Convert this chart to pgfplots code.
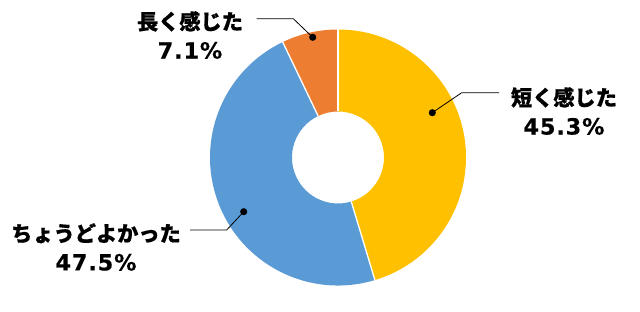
\documentclass[border=0pt]{standalone}
\usepackage{pgfplots}
\pgfplotsset{compat=1.18}
\usepackage{pgfplotstable}
\usepackage{fontspec}
\setmainfont{Noto Sans CJK JP}[BoldFeatures={FakeBold=0.6}]
\newfontfamily\pct{DejaVu Sans}[LetterSpace=4, BoldFeatures={FakeBold=0.3}]
\definecolor{cy}{HTML}{FFC000}
\definecolor{cb}{HTML}{5B9BD5}
\definecolor{co}{HTML}{ED7D31}

\pgfplotstableread{
key value
short 45.3
just 47.5
long 7.1
}\datatable

\pgfplotstablegetelem{0}{value}\of\datatable \let\vA\pgfplotsretval
\pgfplotstablegetelem{1}{value}\of\datatable \let\vB\pgfplotsretval
\pgfplotstablegetelem{2}{value}\of\datatable \let\vC\pgfplotsretval
\pgfmathsetmacro{\tot}{\vA+\vB+\vC}
\pgfmathsetmacro{\aA}{90}
\pgfmathsetmacro{\aB}{90-\vA/\tot*360}
\pgfmathsetmacro{\aC}{\aB-\vB/\tot*360}
\pgfmathsetmacro{\aD}{90-360}

\newcommand\cx{338}
\newcommand\cyy{154.5}
\newcommand\lblfont{\fontsize{21.2bp}{29bp}\selectfont\bfseries}
\newcommand\pf{\pct\fontsize{22.3bp}{29bp}\selectfont\bfseries}

\begin{document}
\begin{tikzpicture}
\useasboundingbox (0,0) rectangle (640bp,312bp);
\begin{axis}[at={(0,0)}, anchor=origin, x=1bp, y=1bp,
  xmin=0, xmax=640, ymin=0, ymax=312, hide axis, clip=false]
% slices
\fill[cy] (axis cs:\cx,\cyy) ++(\aA:128bp) arc[start angle=\aA, end angle=\aB, radius=128bp]
  -- ([shift={(\aB:46bp)}]axis cs:\cx,\cyy) arc[start angle=\aB, end angle=\aA, radius=46bp] -- cycle;
\fill[cb] (axis cs:\cx,\cyy) ++(\aB:128bp) arc[start angle=\aB, end angle=\aC, radius=128bp]
  -- ([shift={(\aC:46bp)}]axis cs:\cx,\cyy) arc[start angle=\aC, end angle=\aB, radius=46bp] -- cycle;
\fill[co] (axis cs:\cx,\cyy) ++(\aC:128bp) arc[start angle=\aC, end angle=\aD, radius=128bp]
  -- ([shift={(\aD:46bp)}]axis cs:\cx,\cyy) arc[start angle=\aD, end angle=\aC, radius=46bp] -- cycle;
% separators
\draw[white, line width=1.3bp] ([shift={(\aA:46bp)}]axis cs:\cx,\cyy) -- ([shift={(\aA:128bp)}]axis cs:\cx,\cyy);
\draw[white, line width=1.3bp] ([shift={(\aB:46bp)}]axis cs:\cx,\cyy) -- ([shift={(\aB:128bp)}]axis cs:\cx,\cyy);
\draw[white, line width=1.3bp] ([shift={(\aC:46bp)}]axis cs:\cx,\cyy) -- ([shift={(\aC:128bp)}]axis cs:\cx,\cyy);
% leader lines
\addplot[black, line width=0.8bp, mark=none] coordinates {(256.7,293.3) (293.3,293.3) (312.7,274.7)};
\addplot[black, line width=0.8bp, mark=none] coordinates {(499,219.3) (461.7,219.3) (432.3,199.3)};
\addplot[black, line width=0.8bp, mark=none] coordinates {(190,82) (226.7,82) (243.7,100.3)};
\addplot[only marks, mark=*, mark size=3.3bp, black] coordinates {(312.7,274.7) (432.3,199.3) (243.7,100.3)};
% labels
\node[align=center, font=\lblfont, inner sep=0pt] at (axis cs:190,277)
  {長く感じた\\{\pf 7.1\%}};
\node[align=center, font=\lblfont, inner sep=0pt] at (axis cs:564,201)
  {短く感じた\\{\pf 45.3\%}};
\node[align=center, font=\lblfont, inner sep=0pt] at (axis cs:96,65)
  {ちょうどよかった\\{\pf 47.5\%}};
\end{axis}
\end{tikzpicture}
\end{document}
